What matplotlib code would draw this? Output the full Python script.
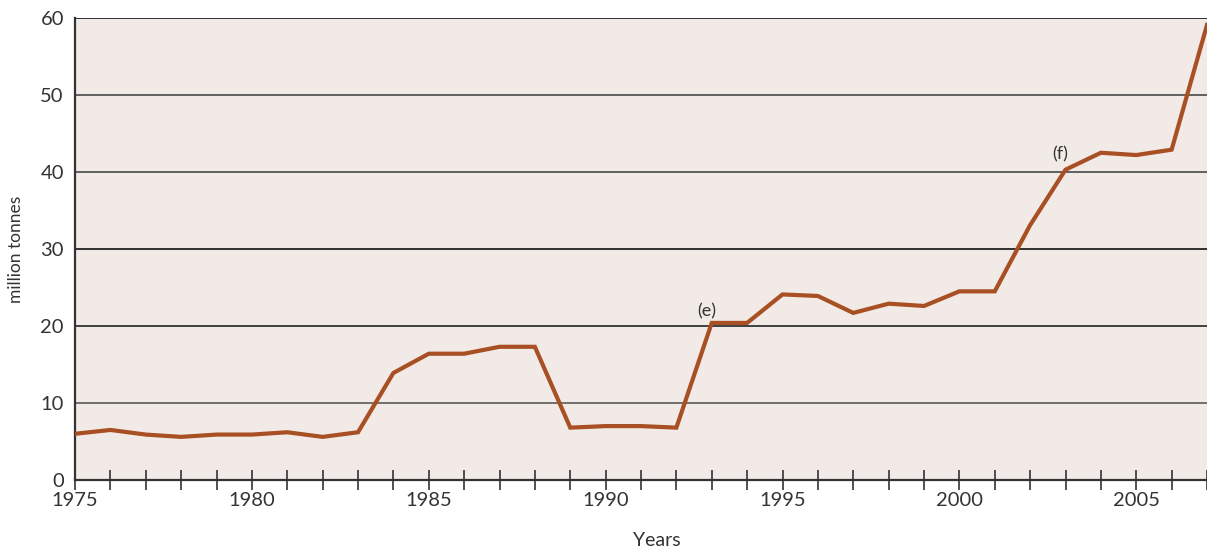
import matplotlib
matplotlib.use("Agg")
import matplotlib.pyplot as plt

years = list(range(1975, 2008))
values = [6.0, 6.5, 5.9, 5.6, 5.9, 5.9, 6.2, 5.6, 6.2, 13.9,
          16.4, 16.4, 17.3, 17.3, 6.8, 7.0, 7.0, 6.8, 20.4, 20.4,
          24.1, 23.9, 21.7, 22.9, 22.6, 24.5, 24.5, 33.1, 40.3, 42.5,
          42.2, 42.9, 59.1]
xtick_labels = [1975, 1980, 1985, 1990, 1995, 2000, 2005]
ytick_labels = [0, 10, 20, 30, 40, 50, 60]
annotations = [("(e)", 1992.85, 21.9), ("(f)", 2002.85, 42.3)]

plt.rcParams['font.family'] = ['Lato', 'DejaVu Sans']
text_color = '#333333'

fig = plt.figure(figsize=(12.07, 5.54), dpi=100)
ax = fig.add_axes([75/1207, 1-480/554, 1-75/1207, 462/554])
ax.set_facecolor('#f2eae7')

grid_colors = {10: '#666666', 20: '#333333', 30: '#222222', 40: '#555555', 50: '#555555', 60: '#222222'}
for yv in ytick_labels[1:]:
    ax.axhline(yv, color=grid_colors[yv], lw=1.3, zorder=1)

ax.plot(years, values, color='#a84f23', lw=3.0, zorder=3, solid_joinstyle='miter')

ax.set_xlim(1975, 2007)
ax.set_ylim(0, 60)
ax.set_xticks(years, minor=False)
ax.set_xticklabels([str(y) if y in xtick_labels else '' for y in years])
ax.set_yticks(ytick_labels)
ax.tick_params(axis='x', direction='inout', length=14, width=1.2, color='#333333',
               labelsize=14.5, labelcolor=text_color, pad=2)
ax.tick_params(axis='y', length=0, labelsize=14.5, labelcolor=text_color, pad=8)

for s in ['top', 'right']:
    ax.spines[s].set_visible(False)
for s in ['left', 'bottom']:
    ax.spines[s].set_color('#333333')
    ax.spines[s].set_linewidth(1.6)

ax.set_ylabel('million tonnes', fontsize=12.5, color=text_color, labelpad=12)
ax.set_xlabel('Years', fontsize=14, color=text_color, labelpad=16)
ax.xaxis.set_label_coords((657 - 75) / (1207 - 75), -(540 - 480) / 462 - 0.0)
ax.xaxis.label.set_va('center')

for txt, xx, yy in annotations:
    ax.text(xx, yy, txt, fontsize=13, color=text_color, ha='center', va='center')

fig.savefig('out.png', dpi=100)
